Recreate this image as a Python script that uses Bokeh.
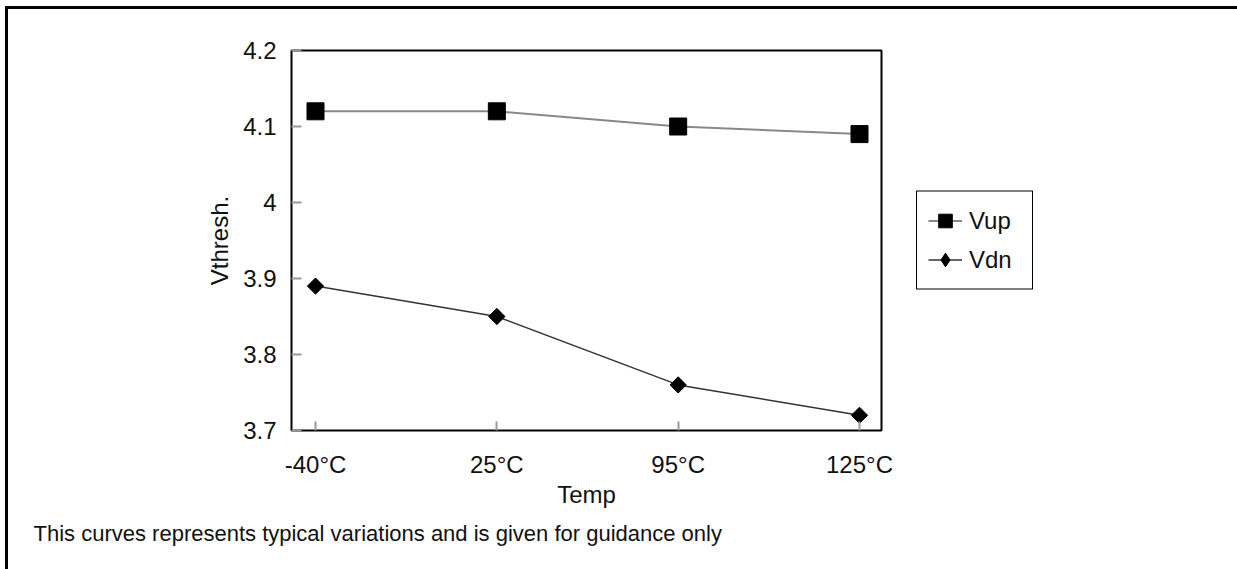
import numpy as np
from bokeh.plotting import figure
from bokeh.models import (FixedTicker, NumeralTickFormatter, Range1d, Legend, LegendItem, Title)
from bokeh.embed import file_html
from bokeh.resources import INLINE

# ---- data ----
categories = ["-40°C", "25°C", "95°C", "125°C"]
vup = [4.12, 4.12, 4.10, 4.09]
vdn = [3.89, 3.85, 3.76, 3.72]
y_ticks = [3.7, 3.8, 3.9, 4.0, 4.1, 4.2]
caption = "This curves represents typical variations and is given for guidance only"

x = list(range(len(categories)))
FONT = "Liberation Sans"
FS = "24px"

p = figure(frame_width=590, frame_height=380, output_backend="svg", toolbar_location=None,
           x_range=Range1d(-0.1324, 3.1213), y_range=Range1d(3.7, 4.2),
           min_border_left=291, min_border_right=356, min_border_top=50, min_border_bottom=139)
p.background_fill_color = "white"
p.border_fill_color = None
p.xgrid.visible = False
p.ygrid.visible = False
p.outline_line_color = "black"
p.outline_line_width = 2
p.outline_line_alpha = 1.0
# outer page frame (open at the bottom), drawn behind the transparent canvas border
p.styles = {"box-shadow": "inset 5px 6px 0 0 white, inset -5px 0 0 0 white, "
                          "inset 8px 9px 0 0 black, inset -9px 0 0 0 black"}

# x axis
xa = p.xaxis[0]
xa.ticker = FixedTicker(ticks=x)
xa.major_label_overrides = {i: c for i, c in enumerate(categories)}
xa.major_tick_in = 9
xa.major_tick_out = 0
xa.major_tick_line_color = "#999999"
xa.major_tick_line_width = 2
xa.minor_tick_line_color = None
xa.axis_line_color = None
xa.major_label_text_font = FONT
xa.major_label_text_font_size = FS
xa.major_label_text_color = "#111111"
xa.major_label_standoff = 20
xa.axis_label = "Temp"
xa.axis_label_text_font = FONT
xa.axis_label_text_font_size = FS
xa.axis_label_text_font_style = "normal"
xa.axis_label_text_color = "#111111"
xa.axis_label_standoff = 0

# y axis
ya = p.yaxis[0]
ya.ticker = FixedTicker(ticks=y_ticks)
ya.formatter = NumeralTickFormatter(format="0.[0]")
ya.major_tick_in = 10
ya.major_tick_out = 0
ya.major_tick_line_color = "#999999"
ya.major_tick_line_width = 2
ya.minor_tick_line_color = None
ya.axis_line_color = None
ya.major_label_text_font = FONT
ya.major_label_text_font_size = FS
ya.major_label_text_color = "#111111"
ya.major_label_standoff = 15
ya.axis_label = "Vthresh."
ya.axis_label_text_font = FONT
ya.axis_label_text_font_size = FS
ya.axis_label_text_font_style = "normal"
ya.axis_label_text_color = "#111111"
ya.axis_label_standoff = 7

# series
l_up = p.line(x, vup, line_color="#888888", line_width=2)
s_up = p.scatter(x, vup, marker="square", size=17, fill_color="black", line_color="black")
l_dn = p.line(x, vdn, line_color="#333333", line_width=1.5)
s_dn = p.scatter(x, vdn, marker="square", angle=np.pi / 4, size=11.5, fill_color="black",
                 line_color="black")
# legend proxy for the diamond symbol (no plotted point)
s_dn_key = p.scatter([np.nan], [np.nan], marker="diamond", size=14, fill_color="black",
                     line_color="black")

lg = Legend(items=[LegendItem(label="Vup", renderers=[l_up, s_up]),
                   LegendItem(label="Vdn", renderers=[l_dn, s_dn_key])],
            location="left")
lg.border_line_color = "black"
lg.border_line_width = 1.5
lg.border_line_alpha = 1.0
lg.background_fill_color = "white"
lg.background_fill_alpha = 1.0
lg.padding = 11
lg.margin = 35
lg.spacing = 3
lg.glyph_width = 34
lg.glyph_height = 36
lg.label_height = 36
lg.label_width = 52
lg.label_standoff = 7
lg.label_text_font = FONT
lg.label_text_font_size = FS
lg.label_text_color = "#111111"
p.add_layout(lg, "right")

cap = Title(text=caption, align="left", offset=-258, vertical_align="top", standoff=20,
            text_font=FONT, text_font_size="22px", text_font_style="normal",
            text_color="#111111")
p.add_layout(cap, "below")

open("out.html", "w").write(file_html(p, INLINE))
